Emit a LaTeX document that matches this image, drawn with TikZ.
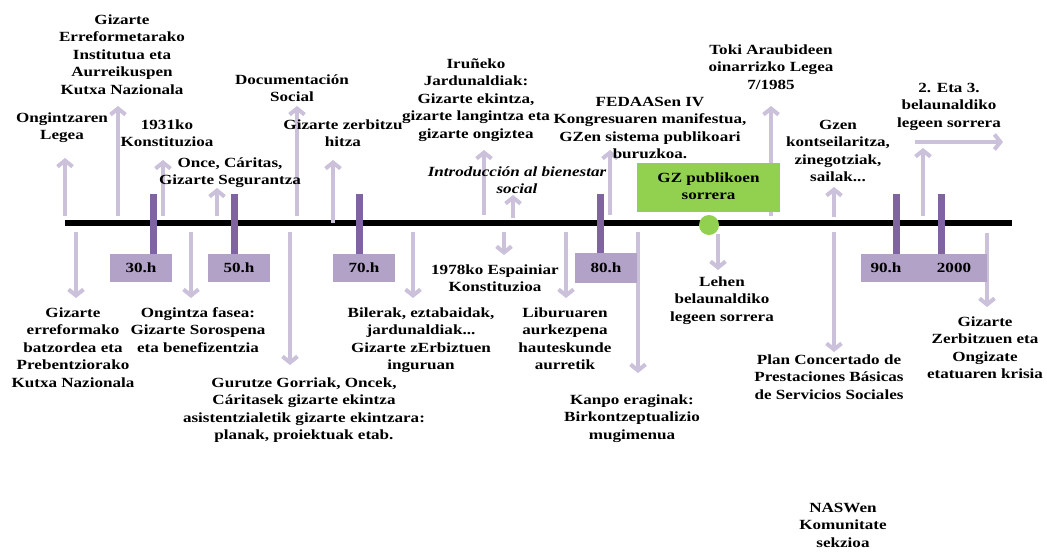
\documentclass[tikz,border=0pt]{standalone}
\usepackage{fontspec}
\usetikzlibrary{arrows.meta}
\newfontfamily\tlfont{Liberation Serif}[FakeStretch=1.22]
\definecolor{arr}{RGB}{204,193,218}
\definecolor{tickc}{RGB}{128,100,162}
\definecolor{boxc}{RGB}{179,162,199}
\definecolor{grn}{RGB}{146,208,80}
\tikzset{
  txt/.style={font=\tlfont\bfseries\fontsize{14}{17.5}\selectfont, align=center, inner sep=0pt, anchor=north},
  itxt/.style={txt, font=\tlfont\bfseries\itshape\fontsize{14}{17.5}\selectfont},
  arw/.style={draw=arr, line width=4pt, -{Straight Barb[length=6pt,width=15pt]}},
  tickline/.style={draw=tickc, line width=7pt},
  hbox/.style={fill=boxc, inner sep=0pt, minimum height=28pt, minimum width=62pt,
    font=\tlfont\bfseries\fontsize{14}{17.5}\selectfont},
  gbox/.style={fill=grn, inner sep=0pt, minimum height=49pt, minimum width=143pt, align=center,
    font=\tlfont\bfseries\fontsize{14}{17.5}\selectfont},
}
\begin{document}
\begin{tikzpicture}[x=1pt,y=-1pt]
\fill[white] (0,0) rectangle (1047,552);
\useasboundingbox (0,0) rectangle (1047,552);

% timeline
\coordinate (L0) at (65,223);
\coordinate (L1) at (1012,223);
\draw[line width=6pt] (L0) -- (L1);

% up arrows: start / end coordinates
\coordinate (u1s) at (65,216);  \coordinate (u1e) at (65,158);
\coordinate (u2s) at (118,216); \coordinate (u2e) at (118,106);
\coordinate (u3s) at (163,216); \coordinate (u3e) at (163,160);
\coordinate (u4s) at (217,216); \coordinate (u4e) at (217,188);
\coordinate (u5s) at (297,216); \coordinate (u5e) at (297,106);
\coordinate (u6s) at (333,223); \coordinate (u6e) at (333,160);
\coordinate (u7s) at (484,215); \coordinate (u7e) at (484,150);
\coordinate (u8s) at (513,218); \coordinate (u8e) at (513,195);
\coordinate (u9s) at (610,215); \coordinate (u9e) at (610,150);
\coordinate (u10s) at (771,216); \coordinate (u10e) at (771,106);
\coordinate (u11s) at (834,217); \coordinate (u11e) at (834,187);
\coordinate (u12s) at (923,216); \coordinate (u12e) at (923,148);
\coordinate (h12s) at (915,142); \coordinate (h12e) at (1003,142);
% down arrows
\coordinate (dAs) at (76,232);  \coordinate (dAe) at (76,298);
\coordinate (dBs) at (191,232); \coordinate (dBe) at (191,298);
\coordinate (dCs) at (290,232); \coordinate (dCe) at (290,365);
\coordinate (dDs) at (413,232); \coordinate (dDe) at (413,298);
\coordinate (dEs) at (504,232); \coordinate (dEe) at (504,255);
\coordinate (dFs) at (566,232); \coordinate (dFe) at (566,298);
\coordinate (dGs) at (638,232); \coordinate (dGe) at (638,373);
\coordinate (dHs) at (718,234); \coordinate (dHe) at (718,270);
\coordinate (dIs) at (834,232); \coordinate (dIe) at (834,352);
\coordinate (dJs) at (987,233); \coordinate (dJe) at (987,307);

\foreach \a in {u1,u2,u3,u4,u5,u6,u7,u8,u9,u10,u11,u12,h12,dA,dB,dC,dD,dE,dF,dG,dH,dI,dJ}
  \draw[arw] (\a s) -- (\a e);

% decade boxes
\node[hbox] (h30) at (141,268) {30.h};
\node[hbox] (h50) at (239,268) {50.h};
\node[hbox] (h70) at (364,268) {70.h};
\node[hbox, minimum height=30pt] (h80) at (606,268) {80.h};
\node[hbox, minimum width=126pt] (h90) at (924,268) {};
\node[font=\tlfont\bfseries\fontsize{14}{17.5}\selectfont, inner sep=0pt] (l90) at (886,268) {90.h};
\node[font=\tlfont\bfseries\fontsize{14}{17.5}\selectfont, inner sep=0pt] (l00) at (954,268) {2000};

% ticks
\coordinate (t30) at (153,194);
\coordinate (t50) at (234,194);
\coordinate (t70) at (359,194);
\coordinate (t80) at (600,194);
\coordinate (t90) at (896,194);
\coordinate (t00) at (941,194);
\draw[tickline] (t30) -- (t30 |- h30.north);
\draw[tickline] (t50) -- (t50 |- h50.north);
\draw[tickline] (t70) -- (t70 |- h70.north);
\draw[tickline] (t80) -- (t80 |- h80.north);
\draw[tickline] (t90) -- (t90 |- h90.north);
\draw[tickline] (t00) -- (t00 |- h90.north);

% green box and circle
\node[gbox] (gz) at (708.5,187.5) {\strut GZ publikoen\\sorrera\strut};
\node[circle, fill=grn, minimum size=20pt, inner sep=0pt] (gc) at (709,225) {};

% texts above
\node[txt] (n1) at (62,110) {\strut Ongintzaren\\Legea};
\node[txt] (n2) at (122,12) {\strut Gizarte\\Erreformetarako\\Institutua eta\\Aurreikuspen\\Kutxa Nazionala};
\node[txt] (n3) at (167,117) {\strut 1931ko\\Konstituzioa};
\node[txt] (n4) at (230,155) {\strut Once, Cáritas,\\Gizarte Segurantza};
\node[txt] (n5) at (292,72) {\strut Documentación\\Social};
\node[txt] (n6) at (343,117) {\strut Gizarte zerbitzu\\hitza};
\node[txt] (n7) at (476,56) {\strut Iruñeko\\Jardunaldiak:\\Gizarte ekintza,\\gizarte langintza eta\\gizarte ongiztea};
\node[itxt] (n8) at (517,164) {\strut Introducción al bienestar\\social};
\node[txt] (n9) at (650,94) {\strut FEDAASen IV\\Kongresuaren manifestua,\\GZen sistema publikoari\\buruzkoa.};
\node[txt] (n10) at (771,42) {\strut Toki Araubideen\\oinarrizko Legea\\7/1985};
\node[txt] (n11) at (838,117) {\strut Gzen\\kontseilaritza,\\zinegotziak,\\sailak...};
\node[txt] (n12) at (949,80) {\strut 2. Eta 3.\\belaunaldiko\\legeen sorrera};

% texts below
\node[txt] (nA) at (73,305) {\strut Gizarte\\erreformako\\batzordea eta\\Prebentziorako\\Kutxa Nazionala};
\node[txt] (nB) at (198,305) {\strut Ongintza fasea:\\Gizarte Sorospena\\eta benefizentzia};
\node[txt] (nC) at (304,375) {\strut Gurutze Gorriak, Oncek,\\Cáritasek gizarte ekintza\\asistentzialetik gizarte ekintzara:\\planak, proiektuak etab.};
\node[txt] (nD) at (421,305) {\strut Bilerak, eztabaidak,\\jardunaldiak...\\Gizarte zErbiztuen\\inguruan};
\node[txt] (nE) at (495,262) {\strut 1978ko Espainiar\\Konstituzioa};
\node[txt] (nF) at (565,305) {\strut Liburuaren\\aurkezpena\\hauteskunde\\aurretik};
\node[txt] (nG) at (632,392) {\strut Kanpo eraginak:\\Birkontzeptualizio\\mugimenua};
\node[txt] (nH) at (722,274) {\strut Lehen\\belaunaldiko\\legeen sorrera};
\node[txt] (nI) at (829,352) {\strut Plan Concertado de\\Prestaciones Básicas\\de Servicios Sociales};
\node[txt] (nJ) at (985,314) {\strut Gizarte\\Zerbitzuen eta\\Ongizate\\etatuaren krisia};
\node[txt] (nK) at (843,500) {\strut NASWen\\Komunitate\\sekzioa};
\end{tikzpicture}
\end{document}
